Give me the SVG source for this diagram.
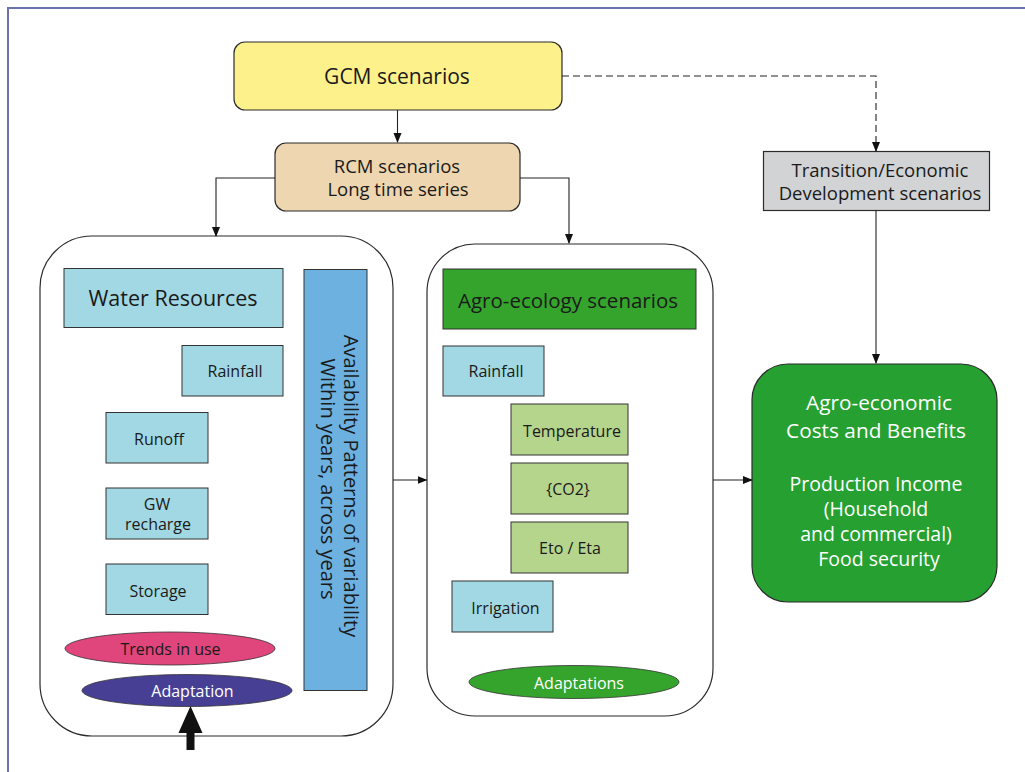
<svg xmlns="http://www.w3.org/2000/svg" width="1025" height="772" viewBox="0 0 1025 772">
<defs>
<marker id="ah" markerWidth="10" markerHeight="10" refX="9" refY="5" orient="auto" markerUnits="userSpaceOnUse">
<path d="M0,1 L10,5 L0,9 Z" fill="#111"/>
</marker>
<style>
text{font-family:"Open Sans","Noto Sans","Liberation Sans",sans-serif;fill:#1a1a1a;text-anchor:middle}
.w{fill:#ffffff}
.box{stroke:#2b2b2b;stroke-width:1.2}
.lb{fill:#a2d8e3;stroke:#333;stroke-width:1}
.lg{fill:#b5d48c;stroke:#333;stroke-width:1}
.conn{fill:none;stroke:#222;stroke-width:1.1}
.s16{font-size:16px}
</style>
</defs>
<rect x="0" y="0" width="1025" height="772" fill="#ffffff"/>
<path d="M8,772 L8,8 L1025,8" fill="none" stroke="#6a72b0" stroke-width="2"/>

<g id="gcm">
<rect class="box" x="234" y="42" width="328" height="68" rx="11" fill="#fdf18b"/>
<text x="397" y="84" font-size="21">GCM scenarios</text>
</g>

<g id="rcm">
<rect class="box" x="275" y="143" width="245" height="68" rx="11" fill="#eed6b0"/>
<text x="397" y="173" font-size="18.5">RCM scenarios</text>
<text x="398" y="196" font-size="18.5">Long time series</text>
</g>

<g id="transition">
<rect class="box" x="763.5" y="151.5" width="226" height="59" fill="#d1d3d4"/>
<text x="880" y="177" font-size="18.5">Transition/Economic</text>
<text x="880" y="200" font-size="18.5">Development scenarios</text>
</g>

<g id="water-resources">
<rect class="box" x="40" y="236" width="353" height="500" rx="52" fill="#ffffff"/>
<g id="wr-title"><rect class="lb" x="64" y="268.5" width="219" height="59"/><text x="173" y="306" font-size="21.5">Water Resources</text></g>
<g id="wr-rainfall"><rect class="lb" x="182" y="345.5" width="101" height="50.5"/><text class="s16" x="235" y="377">Rainfall</text></g>
<g id="wr-runoff"><rect class="lb" x="106" y="412.5" width="102" height="50.5"/><text class="s16" x="159" y="445">Runoff</text></g>
<g id="wr-gw"><rect class="lb" x="106" y="488" width="102" height="51"/><text class="s16" x="157" y="510">GW</text><text class="s16" x="158" y="530">recharge</text></g>
<g id="wr-storage"><rect class="lb" x="106" y="564" width="102" height="50.5"/><text class="s16" x="158" y="596.5">Storage</text></g>
<g id="wr-trends"><ellipse cx="170" cy="648.5" rx="105" ry="16.5" fill="#e0457b" stroke="#333" stroke-width="0.8"/><text class="s16" x="170.5" y="655">Trends in use</text></g>
<g id="wr-adaptation"><ellipse cx="187" cy="690.5" rx="105" ry="16" fill="#463f94" stroke="#333" stroke-width="0.8"/><text class="s16 w" x="192.5" y="697">Adaptation</text></g>
<g id="wr-availability">
<rect x="304" y="269.5" width="63" height="421" fill="#6cb1e0" stroke="#333" stroke-width="1"/>
<text transform="translate(343.5,486) rotate(90)" x="0" y="0" font-size="20">Availability Patterns of variability</text>
<text transform="translate(320.5,479) rotate(90)" x="0" y="0" font-size="20">Within years, across years</text>
</g>
</g>

<g id="agro-ecology">
<rect class="box" x="427" y="244" width="286" height="472" rx="48" fill="#ffffff"/>
<g id="ae-title"><rect x="443" y="269" width="253" height="60" fill="#35a42c" stroke="#333" stroke-width="1"/><text x="568" y="308" font-size="20.5">Agro-ecology scenarios</text></g>
<g id="ae-rainfall"><rect class="lb" x="443" y="346" width="101" height="50"/><text class="s16" x="496" y="377">Rainfall</text></g>
<g id="ae-temperature"><rect class="lg" x="511" y="404" width="117" height="51"/><text class="s16" x="572" y="437">Temperature</text></g>
<g id="ae-co2"><rect class="lg" x="511" y="463" width="117" height="51"/><text class="s16" x="568" y="495">{CO2}</text></g>
<g id="ae-eto"><rect class="lg" x="511" y="522" width="117" height="51"/><text class="s16" x="570" y="554">Eto / Eta</text></g>
<g id="ae-irrigation"><rect class="lb" x="452" y="581" width="101" height="51"/><text class="s16" x="505.5" y="613.5">Irrigation</text></g>
<g id="ae-adaptations"><ellipse cx="574" cy="682" rx="105" ry="16.5" fill="#35a42c" stroke="#333" stroke-width="0.8"/><text class="s16 w" x="579" y="689">Adaptations</text></g>
</g>

<g id="agro-economic">
<rect class="box" x="752" y="364" width="245" height="238" rx="36" fill="#26a131"/>
<text class="w" x="879" y="409.5" font-size="20.8">Agro-economic</text>
<text class="w" x="876" y="438" font-size="20.8">Costs and Benefits</text>
<text class="w" x="876" y="491" font-size="19.5">Production Income</text>
<text class="w" x="876" y="516" font-size="19.5">(Household</text>
<text class="w" x="876" y="541" font-size="19.5">and commercial)</text>
<text class="w" x="879" y="566" font-size="19.5">Food security</text>
</g>

<g id="connectors">
<line class="conn" x1="397.5" y1="110" x2="397.5" y2="142" marker-end="url(#ah)"/>
<polyline class="conn" points="275,178 216,178 216,236" marker-end="url(#ah)"/>
<polyline class="conn" points="520,178 569,178 569,243" marker-end="url(#ah)"/>
<polyline class="conn" points="562,76 876,76 876,151" stroke-dasharray="7,4" marker-end="url(#ah)"/>
<line class="conn" x1="876" y1="211" x2="876" y2="363" marker-end="url(#ah)"/>
<line class="conn" x1="393" y1="480" x2="426.5" y2="480" marker-end="url(#ah)"/>
<line class="conn" x1="713" y1="480" x2="752" y2="480" marker-end="url(#ah)"/>
<path d="M186.5,750 L186.5,733 L178.5,733 L190.5,706 L202.5,733 L194.5,733 L194.5,750 Z" fill="#111"/>
</g>
</svg>
